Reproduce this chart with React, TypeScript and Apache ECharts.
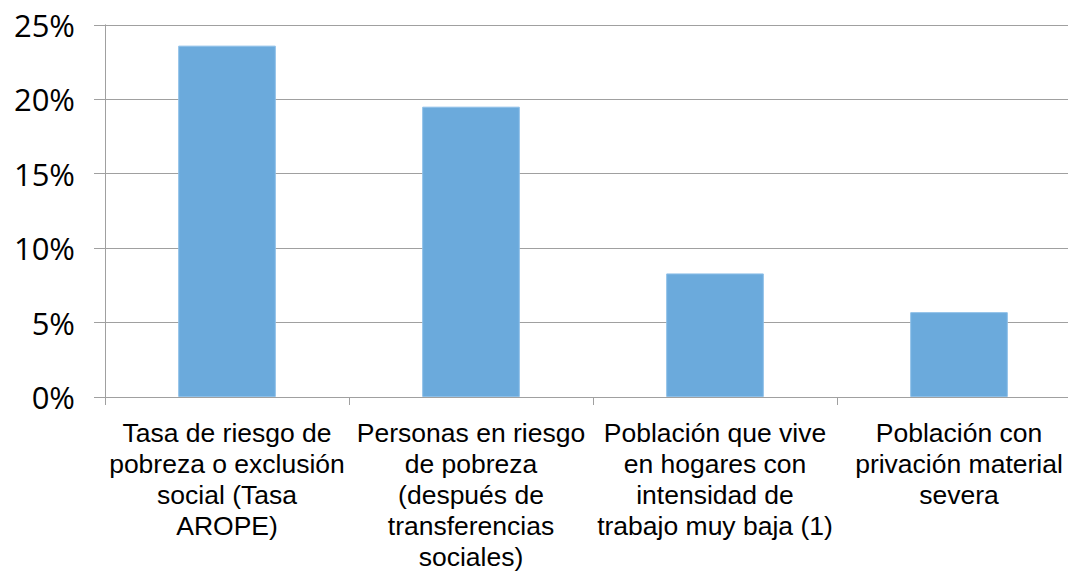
import React, { useEffect, useRef } from "react";
import * as echarts from "echarts";

const categories = [
  "Tasa de riesgo de\npobreza o exclusión\nsocial (Tasa\nAROPE)",
  "Personas en riesgo\nde pobreza\n(después de\ntransferencias\nsociales)",
  "Población que vive\nen hogares con\nintensidad de\ntrabajo muy baja (1)",
  "Población con\nprivación material\nsevera",
];
const values = [23.6, 19.5, 8.3, 5.7];
const yTicks = { min: 0, max: 25, interval: 5 };

export default function App() {
  const ref = useRef<HTMLDivElement>(null);
  useEffect(() => {
    if (!ref.current) return;
    const chart = echarts.init(ref.current, null, { renderer: "svg" });
    chart.setOption({
      animation: false,
      backgroundColor: "#ffffff",
      grid: { left: 105, top: 24.8, width: 976, height: 372.5, containLabel: false },
      xAxis: {
        type: "category",
        data: categories,
        boundaryGap: true,
        axisLine: { show: true, lineStyle: { color: "#A0A0A0", width: 1 } },
        axisTick: { show: true, length: 8, lineStyle: { color: "#A0A0A0" } },
        axisLabel: {
          interval: 0,
          margin: 20,
          color: "#000000",
          fontFamily: "Liberation Sans, Arial, sans-serif",
          fontSize: 26.5,
          lineHeight: 31,
          align: "center",
        },
      },
      yAxis: {
        type: "value",
        min: yTicks.min,
        max: yTicks.max,
        interval: yTicks.interval,
        axisLine: { show: true, lineStyle: { color: "#A0A0A0", width: 1 } },
        axisTick: { show: true, length: 11, inside: false, lineStyle: { color: "#A0A0A0" } },
        splitLine: { show: true, lineStyle: { color: "#A0A0A0", width: 1 } },
        axisLabel: {
          formatter: (v: number) => `${v}%`,
          margin: 30,
          color: "#000000",
          fontFamily: "Open Sans, sans-serif",
          fontSize: 31,
        },
      },
      series: [
        {
          type: "bar",
          data: values,
          barWidth: "40%",
          itemStyle: { color: "#6BAADC", borderColor: "#8DBFE8", borderWidth: 1 },
        },
      ],
    });
    return () => chart.dispose();
  }, []);
  return (
    <div
      style={{
        position: "absolute",
        left: 0,
        top: 0,
        width: 1068,
        height: 572,
        overflow: "hidden",
        background: "#fff",
      }}
    >
      <div ref={ref} style={{ width: 1100, height: 572 }} />
    </div>
  );
}
